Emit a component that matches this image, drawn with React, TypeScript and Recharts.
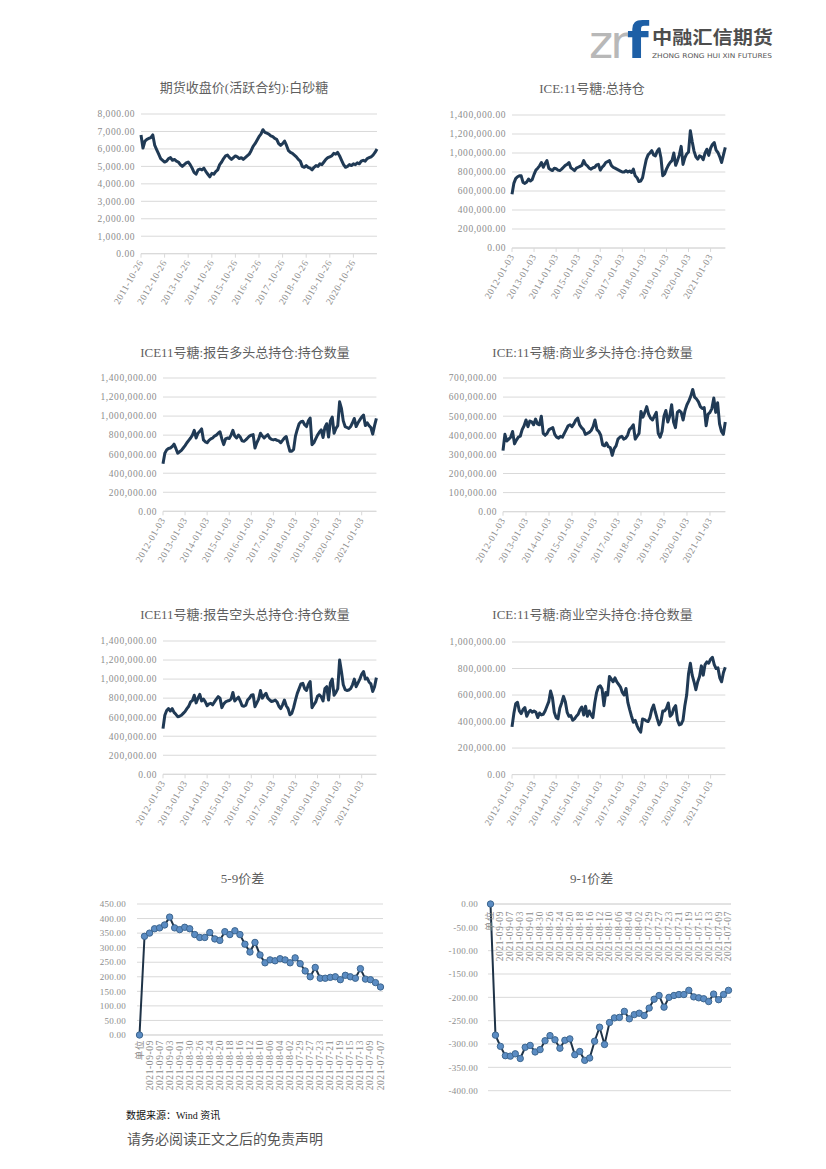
import React from "react";
import { CartesianGrid, Line, LineChart, XAxis, YAxis } from "recharts";

// 期货收盘价(活跃合约):白砂糖, monthly from 2011-10
const sugarClose = [
  6800, 6050, 6450, 6550, 6600, 6650, 6800, 6200, 5950, 5700,
  5450, 5350, 5250, 5300, 5450, 5500, 5350, 5400, 5300, 5250,
  5100, 5000, 5100, 5200, 5250, 5100, 4900, 4650, 4550, 4800,
  4850, 4800, 4900, 4700, 4550, 4400, 4600, 4550, 4700, 4800,
  5100, 5250, 5450, 5600, 5650, 5500, 5400, 5500, 5600, 5550,
  5450, 5500, 5400, 5500, 5600, 5700, 5900, 6150, 6300, 6500,
  6700, 6850, 7100, 6950, 6900, 6850, 6750, 6700, 6600, 6550,
  6300, 6200, 6300, 6450, 6200, 5900, 5800, 5750, 5650, 5550,
  5400, 5300, 5000, 4950, 5050, 4950, 4900, 4800, 4950, 5050,
  5000, 5150, 5100, 5250, 5400, 5500, 5550, 5600, 5750, 5700,
  5800, 5600, 5350, 5100, 4950, 5000, 5100, 5050, 5150, 5100,
  5200, 5150, 5300, 5350, 5300, 5450, 5500, 5550, 5650, 5800,
  6000,
];

// ICE:11号糖 series, monthly from 2012-01, thousands of contracts
const iceOpenInterest = [
  565, 680, 730, 750, 760, 760, 690, 680, 695, 725,
  705, 720, 775, 820, 840, 865, 900, 850, 890, 920,
  840, 825, 815, 840, 835, 820, 815, 830, 850, 870,
  880, 900, 845, 830, 815, 840, 850, 860, 870, 920,
  880, 865, 840, 830, 845, 850, 875, 880, 820, 850,
  870, 900, 910, 920, 870, 850, 840, 830, 820, 810,
  800, 800, 815, 800, 810, 795, 830, 760, 740, 700,
  705, 740, 840, 930, 980, 1000, 1025, 980, 970, 1020,
  1045, 950, 760, 780, 830, 870, 900, 920, 1000, 870,
  920, 980, 1070, 880, 950, 990, 1010, 1235, 1120, 1020,
  960, 935, 970, 960, 930, 1000, 1040, 975, 1050, 1090,
  1110, 1030, 1005, 960, 900, 980, 1060,
];

const reportedLong = [
  500, 610, 645, 660, 665, 680, 705, 660, 610, 625,
  640, 665, 690, 720, 745, 770, 800, 850, 770, 820,
  840, 865, 750, 730, 720, 745, 760, 770, 790, 800,
  820, 835, 760, 700, 760, 770, 765, 800, 850, 790,
  770, 800, 780, 740, 735, 750, 770, 790, 800, 805,
  665, 720, 760, 820, 790, 770, 790, 805, 770, 755,
  750, 755, 745, 740, 720, 745, 770, 785, 700, 630,
  630, 650, 790, 860, 920, 940, 945, 910, 890, 950,
  980, 700, 720, 760, 800, 830, 855, 775, 880, 920,
  780, 950, 990, 820, 870, 900, 1150, 1080, 950, 890,
  880, 870, 890, 930, 975, 890, 930, 960, 990, 1010,
  900, 930, 900, 880, 810, 900, 975,
];

const commercialLong = [
  320, 405, 370, 380, 390, 420, 355, 375, 390, 395,
  430, 450, 480, 445, 475, 470, 455, 485, 460, 455,
  500, 410, 400, 410, 430, 435, 440, 405, 390, 385,
  395, 390, 410, 430, 450, 455, 445, 460, 480, 490,
  455, 440, 430, 405, 410, 415, 425, 445, 480, 430,
  420, 400, 350, 345, 360, 340, 335, 295, 330, 345,
  380, 390, 395, 380, 385, 400, 430, 440, 455, 380,
  395, 410, 525, 495, 520, 550, 510, 490, 480, 500,
  520, 410, 390, 420, 500, 530, 470, 500, 560, 470,
  440, 520, 530, 520, 480, 530, 560, 580, 605, 640,
  600, 590, 575, 550, 540, 545, 450, 510, 520, 540,
  595, 520, 570, 460, 420, 405, 470,
];

const reportedShort = [
  480, 620, 670, 690, 665, 690, 650, 630, 605, 610,
  620, 640, 660, 690, 715, 760, 775, 830, 750, 800,
  840, 770, 790, 760, 720, 740, 745, 730, 760, 790,
  815, 800, 700, 740, 760, 770, 775, 790, 860, 770,
  790, 810, 770, 720, 715, 725, 780, 800, 830, 835,
  710, 750, 790, 880, 800, 830, 850, 800, 780, 765,
  770, 780, 760, 715, 690, 730, 780, 720, 690, 625,
  640, 700, 780, 850, 900, 950, 955, 900, 880, 940,
  975, 700, 730, 760, 820, 835, 815, 770, 900, 920,
  780, 960, 1000, 830, 860, 900, 1200, 1080, 940, 890,
  880, 885, 900, 940, 1000, 920, 960, 1000, 1050, 1080,
  1000, 1010, 970, 950, 870, 920, 1015,
];

const commercialShort = [
  360, 460, 535, 545, 480, 460, 490, 505, 440, 470,
  485, 470, 480, 470, 430, 465, 450, 455, 480, 515,
  550, 630, 580, 470, 430, 420, 500, 540, 590, 550,
  470, 440, 445, 410, 420, 440, 455, 490, 510, 450,
  515, 440, 480, 450, 430, 540, 620, 660, 670, 645,
  520, 620, 600, 740, 720, 700, 730, 700, 680, 660,
  620, 600, 650, 545, 490, 440, 395, 410, 370, 340,
  320, 420, 415, 405, 400, 430, 490, 525, 470, 420,
  375, 400, 480, 480, 500, 540, 440, 455, 500, 520,
  410, 375, 380, 410, 520, 600, 760, 840, 750, 700,
  640, 700, 740, 820, 750, 830, 850, 840, 870, 885,
  830, 800, 805, 730, 700, 770, 810,
];

const priceTickLabels = [
  "2011-10-26", "2012-10-26", "2013-10-26", "2014-10-26", "2015-10-26",
  "2016-10-26", "2017-10-26", "2018-10-26", "2019-10-26", "2020-10-26",
];
const cotTickLabels = [
  "2012-01-03", "2013-01-03", "2014-01-03", "2015-01-03", "2016-01-03",
  "2017-01-03", "2018-01-03", "2019-01-03", "2020-01-03", "2021-01-03",
];

const spreadDates = [
  "单位", "2021-09-10", "2021-09-09", "2021-09-08", "2021-09-07", "2021-09-06",
  "2021-09-03", "2021-09-02", "2021-09-01", "2021-08-31", "2021-08-30",
  "2021-08-27", "2021-08-26", "2021-08-25", "2021-08-24", "2021-08-23",
  "2021-08-20", "2021-08-19", "2021-08-18", "2021-08-17", "2021-08-16",
  "2021-08-13", "2021-08-12", "2021-08-11", "2021-08-10", "2021-08-09",
  "2021-08-06", "2021-08-05", "2021-08-04", "2021-08-03", "2021-08-02",
  "2021-07-30", "2021-07-29", "2021-07-28", "2021-07-27", "2021-07-26",
  "2021-07-23", "2021-07-22", "2021-07-21", "2021-07-20", "2021-07-19",
  "2021-07-16", "2021-07-15", "2021-07-14", "2021-07-13", "2021-07-12",
  "2021-07-09", "2021-07-08", "2021-07-07",
];
const spread59 = [
  0, 339, 350, 365, 368, 378, 405, 368, 362, 370, 365, 345, 335, 335, 352,
  330, 325, 355, 345, 358, 345, 312, 285, 318, 275, 248, 258, 255, 262, 258,
  248, 265, 245, 220, 200, 232, 195, 195, 198, 200, 190, 205, 200, 195, 228,
  192, 190, 180, 165,
];
const spread91 = [
  0, -281, -305, -325, -326, -321, -331, -307, -303, -317, -312, -293, -282,
  -291, -309, -292, -289, -323, -316, -335, -330, -294, -264, -301, -254, -244,
  -243, -230, -246, -237, -234, -239, -223, -204, -196, -221, -200, -196, -194,
  -194, -185, -199, -201, -203, -209, -193, -205, -194, -185,
];

const priceTicks = [0, 1000, 2000, 3000, 4000, 5000, 6000, 7000, 8000];
const oi1400Ticks = [0, 200, 400, 600, 800, 1000, 1200, 1400];
const oi700Ticks = [0, 100, 200, 300, 400, 500, 600, 700];
const oi1000Ticks = [0, 200, 400, 600, 800, 1000];
const s59Ticks = [0, 50, 100, 150, 200, 250, 300, 350, 400, 450];
const s91Ticks = [-400, -350, -300, -250, -200, -150, -100, -50, 0];

const GRID = "#d9d9d9";
const LINE = "#203a55";
const LABEL = "#8c8c8c";
const SERIF = "'Liberation Serif', 'Noto Sans CJK SC', serif";

const fmt = (v: number) => {
  const s = Math.abs(v).toFixed(2);
  const [a, b] = s.split(".");
  return (v < 0 ? "-" : "") + a.replace(/\B(?=(\d{3})+(?!\d))/g, ",") + "." + b;
};

type Box = { l: number; r: number; t: number; b: number };

function Title({ text, cx, cy }: { text: string; cx: number; cy: number }) {
  return (
    <div
      style={{
        position: "absolute",
        left: cx - 160,
        top: cy - 10,
        width: 320,
        height: 20,
        lineHeight: "20px",
        textAlign: "center",
        fontSize: 13,
        color: "#5f5f5f",
        fontFamily: SERIF,
        whiteSpace: "nowrap",
      }}
    >
      {text}
    </div>
  );
}

function YearChart({
  box,
  values,
  tickLabels,
  yTicks,
  yScale,
}: {
  box: Box;
  values: number[];
  tickLabels: string[];
  yTicks: number[];
  yScale: number;
}) {
  const yw = 90;
  const padT = 10;
  const padR = 12;
  const xh = 70;
  const left = box.l - yw;
  const top = box.t - padT;
  const width = box.r - left + padR;
  const height = box.b - top + xh;
  const axisY = box.b - top;
  const data = values.map((v, i) => ({ i, v }));
  const ticks = tickLabels.map((_, k) => k * 12);

  const yearTick = (p: any) => {
    const x = p.x;
    const y = axisY + 7;
    return (
      <text
        x={x}
        y={y}
        transform={`rotate(-60 ${x} ${y})`}
        textAnchor="end"
        dominantBaseline="central"
        style={{ fontFamily: SERIF, fontSize: 9.5, letterSpacing: 0.55, fill: LABEL }}
      >
        {tickLabels[Math.round(p.payload.value / 12)]}
      </text>
    );
  };

  return (
    <div style={{ position: "absolute", left, top }}>
      <LineChart
        width={width}
        height={height}
        data={data}
        margin={{ top: padT, right: padR, bottom: 0, left: 0 }}
      >
        <CartesianGrid vertical={false} stroke={GRID} />
        <XAxis
          dataKey="i"
          type="number"
          domain={[0, values.length - 1]}
          ticks={ticks}
          interval={0}
          height={xh}
          tick={yearTick}
          tickSize={4}
          tickLine={{ stroke: GRID }}
          axisLine={{ stroke: GRID }}
        />
        <YAxis
          width={yw}
          domain={[yTicks[0], yTicks[yTicks.length - 1]]}
          ticks={yTicks}
          interval={0}
          tickFormatter={(v: number) => fmt(v * yScale)}
          axisLine={false}
          tickLine={false}
          tickSize={0}
          tickMargin={6}
          tick={{ fontFamily: SERIF, fontSize: 9.5, letterSpacing: 0.55, fill: LABEL }}
        />
        <Line
          type="linear"
          dataKey="v"
          stroke={LINE}
          strokeWidth={3}
          strokeLinejoin="round"
          dot={false}
          isAnimationActive={false}
        />
      </LineChart>
    </div>
  );
}

function SpreadChart({
  box,
  values,
  yTicks,
  axisTop,
  labelGap,
}: {
  box: Box;
  values: number[];
  yTicks: number[];
  axisTop: boolean;
  labelGap: number;
}) {
  const yw = 70;
  const padT = 10;
  const padR = 12;
  const xh = axisTop ? 1 : 70;
  const left = box.l - yw;
  const top = box.t - padT;
  const width = box.r - left + padR;
  const height = box.b - top + (axisTop ? 12 : xh);
  const axisY = axisTop ? padT : box.b - top;
  const data = values.map((v, i) => ({ d: spreadDates[i], v }));

  const vTick = (p: any) => {
    const x = p.x;
    const y = axisY + (axisTop ? 7 : 5);
    return (
      <text
        x={x}
        y={y}
        transform={`rotate(-90 ${x} ${y})`}
        textAnchor="end"
        dominantBaseline="central"
        style={{ fontFamily: SERIF, fontSize: 9.5, letterSpacing: 0.6, fill: LABEL }}
      >
        {p.payload.value}
      </text>
    );
  };

  return (
    <div style={{ position: "absolute", left, top }}>
      <LineChart
        width={width}
        height={height}
        data={data}
        margin={{ top: axisTop ? padT - xh : padT, right: padR, bottom: axisTop ? 12 : 0, left: 0 }}
      >
        <CartesianGrid vertical={false} stroke={GRID} />
        <XAxis
          dataKey="d"
          orientation={axisTop ? "top" : "bottom"}
          height={xh}
          interval={1}
          padding={{ left: 2.5, right: 2.5 }}
          tick={vTick}
          tickLine={false}
          axisLine={{ stroke: GRID }}
        />
        <YAxis
          width={yw}
          domain={[yTicks[0], yTicks[yTicks.length - 1]]}
          ticks={yTicks}
          interval={0}
          tickFormatter={fmt}
          axisLine={false}
          tickLine={false}
          tickSize={0}
          tickMargin={labelGap}
          tick={{ fontFamily: SERIF, fontSize: 9, letterSpacing: 0.25, fill: LABEL }}
        />
        <Line
          type="linear"
          dataKey="v"
          stroke="#1f3347"
          strokeWidth={2}
          dot={{ r: 3.2, fill: "#5b8cc3", stroke: "#3d668f", strokeWidth: 1 }}
          isAnimationActive={false}
        />
      </LineChart>
    </div>
  );
}

function Logo() {
  return (
    <svg
      width={200}
      height={80}
      style={{ position: "absolute", left: 585, top: 5, overflow: "visible" }}
    >
      <text x={4} y={53} fontSize={46} fill="#b8b8b8" fontFamily="'DejaVu Sans', sans-serif" letterSpacing={-3}>
        zr
      </text>
      <text x={42} y={53} fontSize={50} fill="#1d5fa6" fontWeight="bold" fontFamily="'DejaVu Sans', sans-serif">
        f
      </text>
      <text
        x={67}
        y={38.5}
        fontSize={18}
        fill="#4d4d4d"
        fontWeight="bold"
        fontFamily="'Noto Sans CJK SC', sans-serif"
        textLength={121}
        lengthAdjust="spacingAndGlyphs"
      >
        中融汇信期货
      </text>
      <text
        x={67}
        y={52.5}
        fontSize={6.5}
        fill="#555"
        fontFamily="'DejaVu Sans', sans-serif"
        textLength={120}
        lengthAdjust="spacingAndGlyphs"
      >
        ZHONG RONG HUI XIN FUTURES
      </text>
    </svg>
  );
}

export default function App() {
  return (
    <div
      style={{
        position: "absolute",
        left: 0,
        top: 0,
        width: 826,
        height: 1169,
        background: "#fff",
        overflow: "hidden",
      }}
    >
      <Logo />

      <Title text="期货收盘价(活跃合约):白砂糖" cx={244} cy={88} />
      <YearChart box={{ l: 140.7, r: 376.7, t: 114.3, b: 254 }} values={sugarClose} tickLabels={priceTickLabels} yTicks={priceTicks} yScale={1} />

      <Title text="ICE:11号糖:总持仓" cx={592} cy={89} />
      <YearChart box={{ l: 511.7, r: 725, t: 115, b: 248 }} values={iceOpenInterest} tickLabels={cotTickLabels} yTicks={oi1400Ticks} yScale={1000} />

      <Title text="ICE11号糖:报告多头总持仓:持仓数量" cx={245} cy={353} />
      <YearChart box={{ l: 163.3, r: 376.7, t: 378, b: 511.3 }} values={reportedLong} tickLabels={cotTickLabels} yTicks={oi1400Ticks} yScale={1000} />

      <Title text="ICE:11号糖:商业多头持仓:持仓数量" cx={592.5} cy={353} />
      <YearChart box={{ l: 502.7, r: 725, t: 378, b: 511.7 }} values={commercialLong} tickLabels={cotTickLabels} yTicks={oi700Ticks} yScale={1000} />

      <Title text="ICE11号糖:报告空头总持仓:持仓数量" cx={245} cy={615} />
      <YearChart box={{ l: 163.3, r: 376.7, t: 641, b: 774.3 }} values={reportedShort} tickLabels={cotTickLabels} yTicks={oi1400Ticks} yScale={1000} />

      <Title text="ICE:11号糖:商业空头持仓:持仓数量" cx={592.5} cy={615} />
      <YearChart box={{ l: 511.7, r: 725, t: 641.7, b: 774.3 }} values={commercialShort} tickLabels={cotTickLabels} yTicks={oi1000Ticks} yScale={1000} />

      <Title text="5-9价差" cx={242.5} cy={879} />
      <SpreadChart box={{ l: 136.7, r: 382.7, t: 904.3, b: 1035.3 }} values={spread59} yTicks={s59Ticks} axisTop={false} labelGap={11} />

      <Title text="9-1价差" cx={591.7} cy={879} />
      <SpreadChart box={{ l: 488, r: 731, t: 904.3, b: 1091 }} values={spread91} yTicks={s91Ticks} axisTop={true} labelGap={10} />

      <div
        style={{
          position: "absolute",
          left: 126,
          top: 1110,
          fontSize: 10,
          lineHeight: "12px",
          color: "#111",
          fontFamily: SERIF,
          whiteSpace: "nowrap",
        }}
      >
        数据来源：Wind 资讯
      </div>
      <div
        style={{
          position: "absolute",
          left: 127,
          top: 1129,
          fontSize: 14,
          lineHeight: "18px",
          color: "#555",
          fontFamily: "'Noto Sans CJK SC', sans-serif",
          whiteSpace: "nowrap",
        }}
      >
        请务必阅读正文之后的免责声明
      </div>
    </div>
  );
}
